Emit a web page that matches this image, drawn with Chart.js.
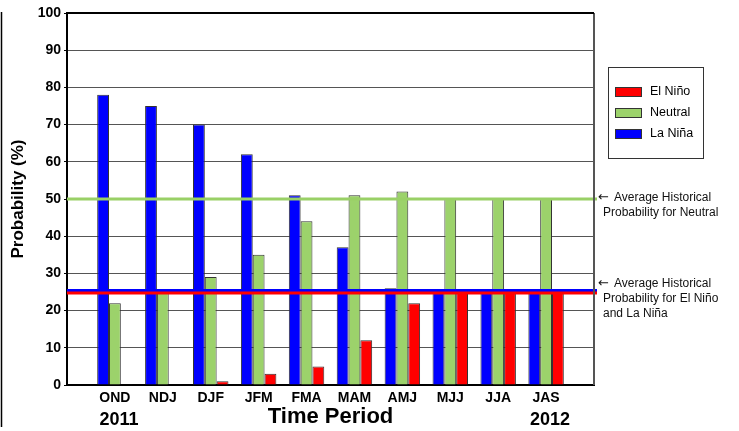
<!DOCTYPE html>
<html>
<head>
<meta charset="utf-8">
<script src="https://cdn.jsdelivr.net/npm/chart.js@4.4.1/dist/chart.umd.min.js"></script>
<style>
  html, body { margin: 0; padding: 0; background: #fff; }
  #wrap { position: relative; width: 739px; height: 431px; }
</style>
</head>
<body>
<div id="wrap"><canvas id="enso"></canvas></div>
<script>
'use strict';

/* ----------------------------------------------------------
   DANE
   ---------------------------------------------------------- */
var okresy = ['OND', 'NDJ', 'DJF', 'JFM', 'FMA', 'MAM', 'AMJ', 'MJJ', 'JJA', 'JAS'];
var pozycje = [1, 2, 3, 4, 5, 6, 7, 8, 9, 10];
var laNina = [78, 75, 70, 62, 51, 37, 26, 25, 25, 25];
var neutral = [22, 25, 29, 35, 44, 51, 52, 50, 50, 50];
var elNino = [0.2, 0.2, 1, 3, 5, 12, 22, 25, 25, 25];
var yTicks = [0, 10, 20, 30, 40, 50, 60, 70, 80, 90, 100];
var lata = ['2011', '2012'];

// średnie historyczne (linie poziome)
var sredniaNeutral = 50;
var sredniaLaNina = 25.4;
var sredniaElNino = 24.7;

var opisNeutral = ['Average Historical', 'Probability for Neutral'];
var opisEnso = ['Average Historical', 'Probability for El Ni\u00f1o', 'and La Ni\u00f1a'];

var KOLOR_NINA = '#0000ff';
var KOLOR_NEUTRAL = '#9cd26b';
var KOLOR_NINO = '#ff0000';
var FONT = "'Liberation Sans', Arial, Helvetica, sans-serif";

/* ----------------------------------------------------------
   PLUGIN: linie średnich, ramka, legenda, opisy
   ---------------------------------------------------------- */
var dodatki = {
  id: 'dodatki',
  afterDatasetsDraw: function (chart) {
    var ctx = chart.ctx;
    var a = chart.chartArea;
    var y = chart.scales.y;
    var x = chart.scales.x;

    function linia(v, kolor) {
      var py = y.getPixelForValue(v);
      ctx.save();
      ctx.strokeStyle = kolor;
      ctx.lineWidth = 3;
      ctx.beginPath();
      ctx.moveTo(a.left, py);
      ctx.lineTo(a.right + 3, py);
      ctx.stroke();
      ctx.restore();
    }
    linia(sredniaNeutral, '#99d066');
    linia(sredniaLaNina, KOLOR_NINA);
    linia(sredniaElNino, KOLOR_NINO);

    // prawa krawędź i góra
    ctx.save();
    ctx.strokeStyle = '#555';
    ctx.lineWidth = 2;
    ctx.beginPath();
    ctx.moveTo(a.right, a.top);
    ctx.lineTo(a.right, a.bottom);
    ctx.stroke();
    ctx.strokeStyle = '#000';
    ctx.beginPath();
    ctx.moveTo(a.left, a.top);
    ctx.lineTo(a.right, a.top);
    ctx.stroke();

    // pionowa linia przy lewej krawędzi
    ctx.lineWidth = 1.5;
    ctx.beginPath();
    ctx.moveTo(1.5, 12);
    ctx.lineTo(1.5, 427);
    ctx.stroke();
    ctx.restore();

    // lata pod osią
    ctx.save();
    ctx.fillStyle = '#000';
    ctx.font = 'bold 18px ' + FONT;
    ctx.textAlign = 'center';
    ctx.textBaseline = 'alphabetic';
    ctx.fillText(lata[0], x.getPixelForValue(pozycje[0]) + 4, a.bottom + 40);
    ctx.fillText(lata[1], x.getPixelForValue(pozycje[pozycje.length - 1]) + 4, a.bottom + 40);
    ctx.restore();

    // opisy po prawej (strzałka + tekst)
    ctx.save();
    ctx.fillStyle = '#111';
    ctx.textAlign = 'left';
    ctx.textBaseline = 'middle';
    function opis(linie, py) {
      ctx.font = "13px 'DejaVu Sans', sans-serif";
      ctx.fillText('\u2190', a.right + 4, py);
      ctx.font = '12px ' + FONT;
      linie.forEach(function (t, i) {
        ctx.fillText(t, i === 0 ? a.right + 20 : a.right + 9, py + i * 15);
      });
    }
    opis(opisNeutral, y.getPixelForValue(sredniaNeutral) - 1);
    opis(opisEnso, y.getPixelForValue(sredniaLaNina) - 7);
    ctx.restore();

    // legenda (odwrócona kolejność)
    var lx = a.right + 14, ly = 67, lw = 95, lh = 91;
    ctx.save();
    ctx.strokeStyle = '#333';
    ctx.lineWidth = 1;
    ctx.strokeRect(lx + 0.5, ly + 0.5, lw, lh);
    var zestawy = chart.data.datasets.slice().reverse();
    ctx.font = '12.5px ' + FONT;
    ctx.textBaseline = 'middle';
    zestawy.forEach(function (ds, i) {
      var cy = ly + 25 + i * 21;
      ctx.fillStyle = ds.backgroundColor;
      ctx.fillRect(lx + 7, cy - 4.5, 27, 9);
      ctx.strokeStyle = '#333';
      ctx.strokeRect(lx + 7.5, cy - 4.5, 26, 9);
      ctx.fillStyle = '#000';
      ctx.fillText(ds.label, lx + 42, cy);
    });
    ctx.restore();
  }
};

/* ----------------------------------------------------------
   WYKRES
   ---------------------------------------------------------- */
function zestaw(label, dane, kolor) {
  return {
    label: label,
    data: dane,
    backgroundColor: kolor,
    borderColor: '#333',
    borderWidth: 1,
    barPercentage: 1,
    categoryPercentage: 0.74
  };
}

var wykres = new Chart(document.getElementById('enso'), {
  type: 'bar',
  data: {
    labels: pozycje,
    datasets: [
      zestaw('La Ni\u00f1a', laNina, KOLOR_NINA),
      zestaw('Neutral', neutral, KOLOR_NEUTRAL),
      zestaw('El Ni\u00f1o', elNino, KOLOR_NINO)
    ]
  },
  options: {
    responsive: true,
    maintainAspectRatio: false,
    animation: false,
    devicePixelRatio: 1,
    layout: { padding: { left: 0, top: 13, right: 145, bottom: 0 } },
    plugins: {
      legend: { display: false },
      tooltip: { enabled: false }
    },
    scales: {
      x: {
        type: 'linear',
        offset: false,
        min: 0,
        max: pozycje.length + 1,
        afterFit: function (s) { s.height = 46; },
        afterBuildTicks: function (s) {
          s.ticks = pozycje.map(function (v) { return { value: v }; });
        },
        ticks: {
          autoSkip: false,
          maxRotation: 0,
          padding: 5,
          color: '#000',
          font: { family: FONT, size: 14, weight: 'bold' },
          callback: function (v) { return okresy[v - 1] || ''; }
        },
        grid: { display: false, drawTicks: false },
        border: { color: '#000', width: 2 },
        title: {
          display: true,
          text: 'Time Period',
          color: '#000',
          font: { family: FONT, size: 22, weight: 'bold' },
          padding: { top: 0, bottom: 1 }
        }
      },
      y: {
        min: 0,
        max: 100,
        afterFit: function (s) { s.width = 67; },
        afterBuildTicks: function (s) {
          s.ticks = yTicks.map(function (v) { return { value: v }; });
        },
        ticks: {
          padding: 3,
          color: '#000',
          font: { family: FONT, size: 14, weight: 'bold' }
        },
        grid: {
          color: function (c) { return c.tick && c.tick.value === 100 ? '#000' : '#555'; },
          lineWidth: 1,
          tickLength: 3,
          tickColor: '#000'
        },
        border: { color: '#000', width: 2 },
        title: {
          display: true,
          text: 'Probability (%)',
          color: '#000',
          font: { family: FONT, size: 17, weight: 'bold' },
          padding: { top: 8, bottom: 0 }
        }
      }
    }
  },
  plugins: [dodatki]
});
</script>
</body>
</html>
